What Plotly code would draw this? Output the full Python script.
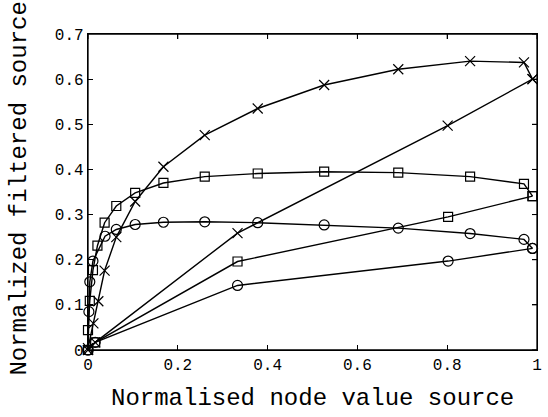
import plotly.graph_objects as go

# Curved series (rising fast, then plateau)
cross_curve_x = [0.0, 0.012, 0.023, 0.037, 0.063, 0.105, 0.168, 0.260, 0.378, 0.526, 0.691, 0.851, 0.971, 0.990]
cross_curve_y = [0.004, 0.059, 0.108, 0.176, 0.250, 0.329, 0.406, 0.476, 0.535, 0.587, 0.622, 0.640, 0.637, 0.600]

square_curve_x = [0.0, 0.0, 0.004, 0.011, 0.021, 0.037, 0.063, 0.105, 0.168, 0.260, 0.378, 0.526, 0.691, 0.851, 0.971, 0.990]
square_curve_y = [0.0, 0.044, 0.109, 0.177, 0.231, 0.282, 0.319, 0.348, 0.370, 0.384, 0.391, 0.395, 0.393, 0.384, 0.368, 0.341]

circle_curve_x = [0.0, 0.002, 0.004, 0.011, 0.038, 0.063, 0.105, 0.168, 0.260, 0.378, 0.526, 0.691, 0.851, 0.971, 0.990]
circle_curve_y = [0.0, 0.085, 0.151, 0.197, 0.252, 0.267, 0.278, 0.283, 0.284, 0.282, 0.277, 0.270, 0.258, 0.245, 0.225]

# Near-linear series
cross_line_x = [0.0, 0.016, 0.333, 0.801, 0.990]
cross_line_y = [0.0, 0.017, 0.259, 0.497, 0.600]

square_line_x = [0.0, 0.016, 0.333, 0.802, 0.990]
square_line_y = [0.0, 0.017, 0.196, 0.295, 0.341]

circle_line_x = [0.0, 0.016, 0.333, 0.802, 0.990]
circle_line_y = [0.0, 0.017, 0.143, 0.197, 0.225]

x_tick_vals = [0, 0.2, 0.4, 0.6, 0.8, 1.0]
x_tick_text = ["0", "0.2", "0.4", "0.6", "0.8", "1"]
y_tick_vals = [0, 0.1, 0.2, 0.3, 0.4, 0.5, 0.6, 0.7]
y_tick_text = ["0", "0.1", "0.2", "0.3", "0.4", "0.5", "0.6", "0.7"]

FONT = "Liberation Mono, Courier New, monospace"

fig = go.Figure()

def add(xs, ys, symbol, size):
    fig.add_trace(go.Scatter(
        x=xs, y=ys, mode="lines+markers",
        line=dict(color="black", width=1.4),
        marker=dict(symbol=symbol, size=size, color="black",
                    line=dict(color="black", width=1.2)),
        cliponaxis=False, showlegend=False,
    ))

add(cross_curve_x, cross_curve_y, "x-thin-open", 10)
add(square_curve_x, square_curve_y, "square-open", 9)
add(circle_curve_x, circle_curve_y, "circle-open", 10)
add(cross_line_x, cross_line_y, "x-thin-open", 10)
add(square_line_x, square_line_y, "square-open", 9)
add(circle_line_x, circle_line_y, "circle-open", 10)

axis_common = dict(
    showgrid=False, zeroline=False,
    showline=True, linecolor="black", linewidth=1.3, mirror="ticks",
    ticks="inside", ticklen=5, tickwidth=1, tickcolor="black",
    ticklabeloverflow="allow",
    tickfont=dict(family=FONT, size=16, color="black"),
)

fig.update_xaxes(range=[0, 1], tickvals=x_tick_vals, ticktext=x_tick_text, **axis_common)
fig.update_yaxes(range=[0, 0.7], tickvals=y_tick_vals, ticktext=y_tick_text, **axis_common)

# frame around the plotting area
fig.add_shape(type="rect", xref="paper", yref="paper", x0=0, y0=0, x1=1, y1=1,
              line=dict(color="black", width=1.3), layer="above")
# mirrored tick marks on the top and right edges, placed at the tick values
for v in x_tick_vals:
    fig.add_shape(type="line", xref="x", yref="paper", x0=v, x1=v, y0=1, y1=1 - 5 / 316,
                  line=dict(color="black", width=1), layer="above")
for v in y_tick_vals:
    fig.add_shape(type="line", xref="paper", yref="y", x0=1, x1=1 - 5 / 450, y0=v, y1=v,
                  line=dict(color="black", width=1), layer="above")

fig.add_annotation(text="Normalised node value source", xref="paper", yref="paper",
                   x=0.5, y=-0.152, xanchor="center", yanchor="middle", showarrow=False,
                   font=dict(family=FONT, size=24, color="black"))
fig.add_annotation(text="Normalized filtered source", xref="paper", yref="paper",
                   x=-0.152, y=0.51, xanchor="center", yanchor="middle", showarrow=False,
                   textangle=-90, font=dict(family=FONT, size=24, color="black"))

fig.update_layout(
    width=548, height=417,
    margin=dict(l=88, r=6, t=34, b=67),
    paper_bgcolor="white", plot_bgcolor="white",
)

fig.write_html("out.html", config={"displayModeBar": False},
               post_script="document.body.style.margin='0';")
